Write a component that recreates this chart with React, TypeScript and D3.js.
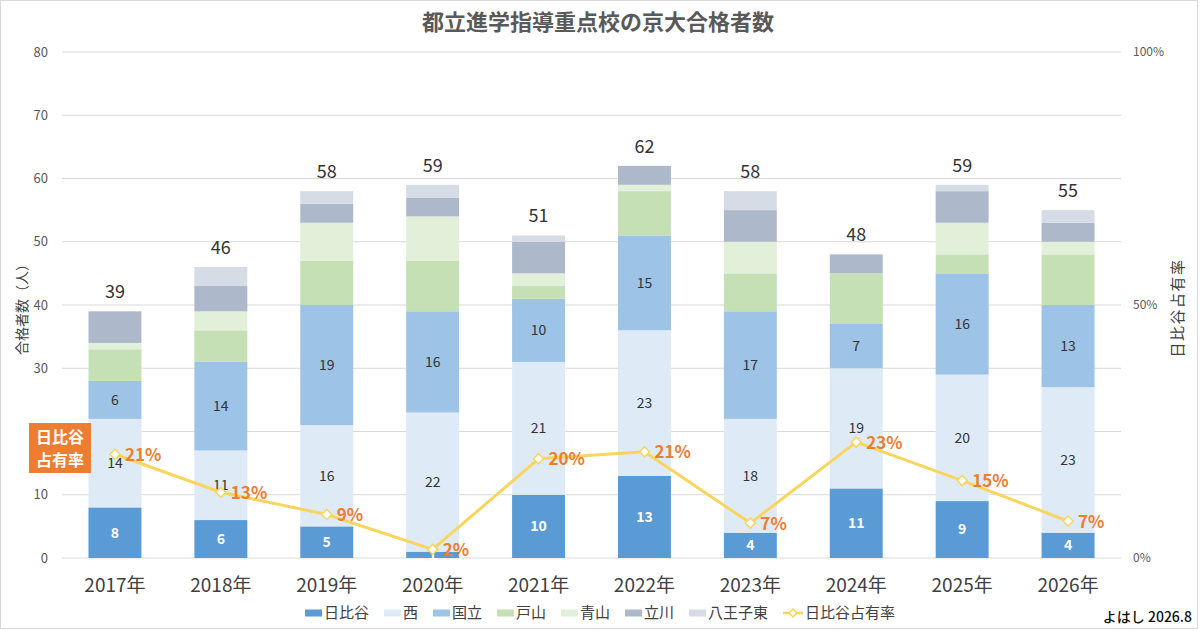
import * as d3 from "d3";

const years = ["2017年", "2018年", "2019年", "2020年", "2021年", "2022年", "2023年", "2024年", "2025年", "2026年"];

// 合格者数 by school
const hibiya = [8, 6, 5, 1, 10, 13, 4, 11, 9, 4];
const nishi = [14, 11, 16, 22, 21, 23, 18, 19, 20, 23];
const kunitachi = [6, 14, 19, 16, 10, 15, 17, 7, 16, 13];
const toyama = [5, 5, 7, 8, 2, 7, 6, 8, 3, 8];
const aoyama = [1, 3, 6, 7, 2, 1, 5, 0, 5, 2];
const tachikawa = [5, 4, 3, 3, 5, 3, 5, 3, 5, 3];
const hachiojiHigashi = [0, 3, 2, 2, 1, 0, 3, 0, 1, 2];

// 日比谷占有率 (%)
const hibiyaShare = [20.5, 13.0, 8.6, 1.7, 19.6, 21.0, 6.9, 22.9, 15.3, 7.3];

const leftTicks = [0, 10, 20, 30, 40, 50, 60, 70, 80];
const rightTicks = [0, 50, 100];

const schools = [
  { name: "日比谷", values: hibiya, color: "#5B9BD5", label: "#ffffff" },
  { name: "西", values: nishi, color: "#DEEBF7", label: "#333333" },
  { name: "国立", values: kunitachi, color: "#9DC3E6", label: "#333333" },
  { name: "戸山", values: toyama, color: "#C5E0B4", label: null },
  { name: "青山", values: aoyama, color: "#E2F0D9", label: null },
  { name: "立川", values: tachikawa, color: "#ADB9CA", label: null },
  { name: "八王子東", values: hachiojiHigashi, color: "#D6DCE5", label: null },
];

const W = 1200;
const H = 631;
const plot = { left: 62, right: 1121, top: 52, bottom: 558 };
const font = "'Noto Sans CJK JP', 'Noto Sans', sans-serif";
const lineColor = "#F9D55E";
const orange = "#ED7D31";

export default function App() {
  const x = d3
    .scaleBand()
    .domain(years)
    .range([plot.left, plot.right])
    .paddingInner(0.5)
    .paddingOuter(0.25);
  const y = d3.scaleLinear().domain([0, 80]).range([plot.bottom, plot.top]);
  const yR = d3.scaleLinear().domain([0, 100]).range([plot.bottom, plot.top]);

  const rows = years.map((yr, i) => {
    const r: any = { year: yr };
    schools.forEach((s) => (r[s.name] = s.values[i]));
    return r;
  });
  const stack = d3.stack().keys(schools.map((s) => s.name));
  const layers = stack(rows);
  const totals = years.map((_, i) => d3.sum(schools, (s) => s.values[i]));

  const line = d3
    .line<number>()
    .x((_, i) => x(years[i])! + x.bandwidth() / 2)
    .y((d) => yR(d));

  // legend layout
  const charW = 15;
  const legendItems = [
    ...schools.map((s) => ({ name: s.name, color: s.color, line: false })),
    { name: "日比谷占有率", color: lineColor, line: true },
  ];
  const itemW = (n: string, isLine: boolean) => (isLine ? 20 : 17) + 2 + n.length * charW;
  const legendTotal = d3.sum(legendItems, (d) => itemW(d.name, d.line)) + 15 * (legendItems.length - 1);
  let lx = W / 2 - legendTotal / 2;
  const legendPos = legendItems.map((d) => {
    const p = lx;
    lx += itemW(d.name, d.line) + 15;
    return p;
  });
  const legendY = 613;

  // box covering the left axis near 20 (tick label hidden there in the original)
  const box = { x: 29, y: 423, w: 62, h: 50 };
  const visibleLeftTicks = leftTicks.filter((t) => y(t) < box.y - 6 || y(t) > box.y + box.h + 6);

  return (
    <svg
      width={W}
      height={H}
      style={{ position: "absolute", left: 0, top: 0, background: "#fff" }}
      fontFamily={font}
    >
      <rect x={0.5} y={0.5} width={1197} height={628} fill="#fff" stroke="#d9d9d9" />

      <text x={598} y={30} textAnchor="middle" fontSize={22} fontWeight="bold" fill="#595959">
        都立進学指導重点校の京大合格者数
      </text>

      {/* gridlines */}
      {leftTicks.map((t) => (
        <line key={t} x1={plot.left} x2={plot.right} y1={y(t)} y2={y(t)} stroke="#d9d9d9" strokeWidth={1} />
      ))}
      {visibleLeftTicks.map((t) => (
        <text key={"l" + t} x={48} y={y(t)} dy="0.35em" textAnchor="end" fontSize={13} fill="#595959">
          {t}
        </text>
      ))}
      {rightTicks.map((t) => (
        <text key={"r" + t} x={1133} y={yR(t)} dy="0.35em" textAnchor="start" fontSize={12} fill="#595959">
          {t}%
        </text>
      ))}

      <text transform={`translate(22,306) rotate(-90)`} textAnchor="middle" dy="0.35em" fontSize={14} fill="#404040">
        合格者数（人）
      </text>
      <text transform={`translate(1178,308) rotate(-90)`} textAnchor="middle" dy="0.35em" fontSize={15} fill="#404040" letterSpacing={1.5}>
        日比谷占有率
      </text>

      {/* stacked bars */}
      {layers.map((layer, li) => (
        <g key={layer.key} fill={schools[li].color}>
          {layer.map((d, i) =>
            d[1] - d[0] > 0 ? (
              <rect
                key={i}
                x={x(years[i])}
                y={y(d[1])}
                width={x.bandwidth()}
                height={y(d[0]) - y(d[1])}
              />
            ) : null
          )}
        </g>
      ))}
      {layers.map((layer, li) =>
        schools[li].label ? (
          <g key={"lbl" + layer.key}>
            {layer.map((d, i) =>
              d[1] - d[0] > 0 ? (
                <text
                  key={i}
                  x={x(years[i])! + x.bandwidth() / 2}
                  y={y((d[0] + d[1]) / 2)}
                  dy="0.35em"
                  textAnchor="middle"
                  fontSize={14}
                  fontWeight={li === 0 ? "bold" : "normal"}
                  fill={schools[li].label!}
                >
                  {d[1] - d[0]}
                </text>
              ) : null
            )}
          </g>
        ) : null
      )}

      {/* totals */}
      {totals.map((t, i) => (
        <text
          key={"t" + i}
          x={x(years[i])! + x.bandwidth() / 2}
          y={y(t) - 13}
          textAnchor="middle"
          fontSize={18}
          fill="#333"
        >
          {t}
        </text>
      ))}

      {/* x labels */}
      {years.map((yr) => (
        <text key={yr} x={x(yr)! + x.bandwidth() / 2} y={592} textAnchor="middle" fontSize={19} fill="#404040">
          {yr}
        </text>
      ))}

      {/* share line */}
      <path d={line(hibiyaShare)!} fill="none" stroke={lineColor} strokeWidth={3} strokeLinejoin="round" />
      {hibiyaShare.map((v, i) => {
        const cx = x(years[i])! + x.bandwidth() / 2;
        const cy = yR(v);
        return (
          <g key={"m" + i}>
            <path
              d={`M${cx},${cy - 5} L${cx + 5},${cy} L${cx},${cy + 5} L${cx - 5},${cy} Z`}
              fill="#fff"
              stroke={lineColor}
              strokeWidth={1.5}
            />
            <text x={cx + 10} y={cy} dy="0.38em" fontSize={17} fontWeight="bold" fill={orange}>
              {Math.round(v)}%
            </text>
          </g>
        );
      })}

      {/* label box */}
      <rect x={box.x} y={box.y} width={box.w} height={box.h} fill={orange} />
      <text x={60} y={437} dy="0.35em" textAnchor="middle" fontSize={16} fontWeight="bold" fill="#fff">
        日比谷
      </text>
      <text x={60} y={460} dy="0.35em" textAnchor="middle" fontSize={16} fontWeight="bold" fill="#fff">
        占有率
      </text>

      {/* legend */}
      {legendItems.map((d, i) => {
        const px = legendPos[i];
        return (
          <g key={"lg" + i}>
            {d.line ? (
              <>
                <line x1={px} x2={px + 20} y1={legendY} y2={legendY} stroke={d.color} strokeWidth={2.5} />
                <path
                  d={`M${px + 10},${legendY - 4} L${px + 14},${legendY} L${px + 10},${legendY + 4} L${px + 6},${legendY} Z`}
                  fill="#fff"
                  stroke={d.color}
                  strokeWidth={1.5}
                />
              </>
            ) : (
              <rect x={px} y={legendY - 3.5} width={17} height={7} fill={d.color} />
            )}
            <text x={px + (d.line ? 20 : 17) + 2} y={legendY} dy="0.36em" fontSize={15} fill="#404040">
              {d.name}
            </text>
          </g>
        );
      })}

      <text x={1192} y={622} textAnchor="end" fontSize={14} fontWeight={500} fill="#111">
        よはし 2026.8
      </text>
    </svg>
  );
}
